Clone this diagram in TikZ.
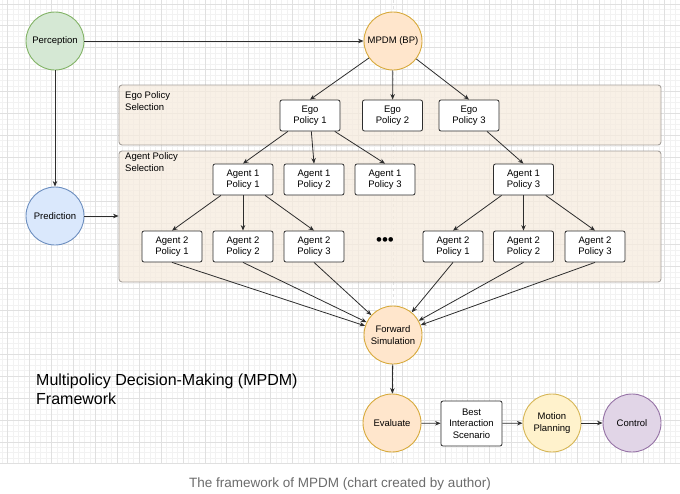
\documentclass[tikz,border=0pt]{standalone}
\usepackage{fontspec}
\setmainfont{Liberation Sans}
\usetikzlibrary{arrows.meta}

\definecolor{gridminor}{RGB}{242,242,242}
\definecolor{gridmajor}{RGB}{224,224,224}
\definecolor{edgecol}{RGB}{45,45,45}
\definecolor{conbg}{RGB}{246,235,222}
\definecolor{conline}{RGB}{165,160,155}
\definecolor{greenfill}{RGB}{213,232,212}
\definecolor{greenline}{RGB}{130,179,102}
\definecolor{bluefill}{RGB}{218,232,252}
\definecolor{blueline}{RGB}{108,142,191}
\definecolor{orangefill}{RGB}{255,230,204}
\definecolor{orangeline}{RGB}{215,170,60}
\definecolor{yellowfill}{RGB}{255,242,204}
\definecolor{yellowline}{RGB}{214,182,86}
\definecolor{purplefill}{RGB}{225,213,231}
\definecolor{purpleline}{RGB}{150,115,166}
\definecolor{captioncol}{RGB}{107,107,107}

\begin{document}
\begin{tikzpicture}[x=1pt, y=-1pt,
  pol/.style={draw=edgecol, fill=white, rounded corners=2pt, line width=0.8pt, minimum width=60pt, minimum height=31pt, inner sep=1pt, align=center, font=\fontsize{9.5}{11.5}\selectfont},
  circ/.style={circle, line width=0.9pt, minimum size=58pt, inner sep=0pt, align=center, font=\fontsize{9.5}{11.5}\selectfont},
  container/.style={draw=conline, fill=conbg, fill opacity=0.75, rounded corners=3pt, line width=0.9pt, inner sep=0pt},
  lbl/.style={anchor=north west, align=left, inner sep=0pt, font=\fontsize{9.5}{12}\selectfont},
  arr/.style={draw=edgecol, line width=0.8pt, -{Stealth[length=5.5pt,width=4.5pt]}}
]
\useasboundingbox (0,0) rectangle (680,493);

% background grid
\begin{scope}
\clip (0,0) rectangle (680,463);
\foreach \i in {-1,...,125} {\draw[gridminor, line width=0.5pt] ({2.2+\i*5.475},0) -- ({2.2+\i*5.475},463);}
\foreach \i in {-1,...,85} {\draw[gridminor, line width=0.5pt] (0,{-1.7+\i*5.475}) -- (680,{-1.7+\i*5.475});}
\foreach \i in {0,...,31} {\draw[gridmajor, line width=0.6pt] ({7.7+\i*21.9},0) -- ({7.7+\i*21.9},463);}
\foreach \i in {0,...,21} {\draw[gridmajor, line width=0.6pt] (0,{3.8+\i*21.9}) -- (680,{3.8+\i*21.9});}
\draw[gridmajor, line width=0.7pt, dash pattern=on 3pt off 3pt] (393,0) -- (393,463);
\end{scope}

% selection areas
\node[container, minimum width=542pt, minimum height=60pt] (egosel) at (390,115) {};
\node[container, minimum width=542pt, minimum height=131pt] (agentsel) at (390,216.5) {};
\node[lbl] (egolbl) at (125,91) {Ego Policy\\Selection};
\node[lbl] (agentlbl) at (125,152) {Agent Policy\\Selection};

% perception and planning
\node[circ, draw=greenline, fill=greenfill] (perc) at (55,41) {Perception};
\node[circ, draw=blueline, fill=bluefill] (pred) at (55,216) {Prediction};
\node[circ, draw=orangeline, fill=orangefill] (mpdm) at (393,41) {MPDM (BP)};

\node[pol] (e1) at (310,115.5) {Ego\\Policy 1};
\node[pol] (e2) at (392.5,115.5) {Ego\\Policy 2};
\node[pol] (e3) at (469,115.5) {Ego\\Policy 3};

\node[pol] (a1p1) at (243,179.5) {Agent 1\\Policy 1};
\node[pol] (a1p2) at (314,179.5) {Agent 1\\Policy 2};
\node[pol] (a1p3) at (385,179.5) {Agent 1\\Policy 3};
\node[pol] (b1p3) at (523.5,179.5) {Agent 1\\Policy 3};

\node[pol] (a2p1) at (172,246.5) {Agent 2\\Policy 1};
\node[pol] (a2p2) at (243,246.5) {Agent 2\\Policy 2};
\node[pol] (a2p3) at (314,246.5) {Agent 2\\Policy 3};
\node[inner sep=0pt, font=\fontsize{17}{17}\selectfont] (dots) at (385,242) {•••};
\node[pol] (b2p1) at (453,246.5) {Agent 2\\Policy 1};
\node[pol] (b2p2) at (523.5,246.5) {Agent 2\\Policy 2};
\node[pol] (b2p3) at (595,246.5) {Agent 2\\Policy 3};

\node[circ, draw=orangeline, fill=orangefill] (fwd) at (393,335) {Forward\\Simulation};
\node[circ, draw=orangeline, fill=orangefill] (eval) at (392,423) {Evaluate};
\node[pol, minimum width=61pt, minimum height=45pt] (best) at (471.5,423.5) {Best\\Interaction\\Scenario};
\node[circ, draw=yellowline, fill=yellowfill] (motion) at (552,423) {Motion\\Planning};
\node[circ, draw=purpleline, fill=purplefill] (ctrl) at (632,423) {Control};

\node[anchor=west, align=left, inner sep=0pt, font=\fontsize{16}{19}\selectfont] (title) at (36,389.5) {Multipolicy Decision-Making (MPDM)\\Framework};
\node[text=captioncol, inner sep=0pt, font=\fontsize{13.5}{16}\selectfont] (caption) at (340,484) {The framework of MPDM (chart created by author)};

% connectors
\draw[arr] (perc) -- (mpdm);
\draw[arr] (perc) -- (pred);
\draw[arr] (pred) -- (pred -| agentsel.west);
\draw[arr] (mpdm) -- (e1.north);
\draw[arr] (mpdm) -- (e2);
\draw[arr] (mpdm) -- (e3.north);
\draw[arr] (e1) -- (a1p1.north);
\draw[arr] (e1) -- (a1p2.north);
\draw[arr] (e1) -- (a1p3.north);
\draw[arr] (e3) -- (b1p3.north);
\draw[arr] (a1p1) -- (a2p1.north);
\draw[arr] (a1p1) -- (a2p2.north);
\draw[arr] (a1p1) -- (a2p3.north);
\draw[arr] (b1p3) -- (b2p1.north);
\draw[arr] (b1p3) -- (b2p2.north);
\draw[arr] (b1p3) -- (b2p3.north);
\draw[arr] (a2p1.south) -- (fwd);
\draw[arr] (a2p2.south) -- (fwd);
\draw[arr] (a2p3.south) -- (fwd);
\draw[arr] (b2p1.south) -- (fwd);
\draw[arr] (b2p2.south) -- (fwd);
\draw[arr] (b2p3.south) -- (fwd);
\draw[arr] (fwd) -- (eval);
\draw[arr] (eval) -- (best);
\draw[arr] (best) -- (motion);
\draw[arr] (motion) -- (ctrl);
\end{tikzpicture}
\end{document}
